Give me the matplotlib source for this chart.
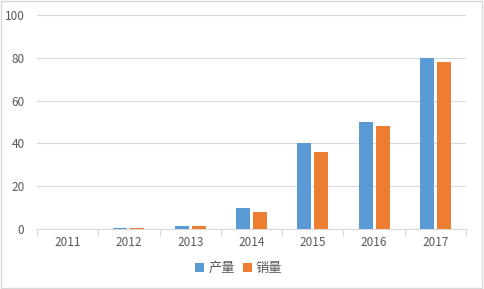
import matplotlib as mpl
mpl.use('Agg')
import matplotlib.pyplot as plt
import numpy as np

# data
years = ['2011', '2012', '2013', '2014', '2015', '2016', '2017']
output = [0, 0.5, 1.5, 10, 40, 50, 80]     # 产量
sales = [0, 0.5, 1.5, 8, 36, 48, 78]       # 销量

plt.rcParams['font.family'] = ['Noto Sans CJK SC', 'DejaVu Sans']

fig = plt.figure(figsize=(4.84, 2.89), dpi=100)
ax = fig.add_axes([0.0764, 0.2076, 0.8864, 0.7404])

x = np.arange(len(years))
w = 0.228
ax.bar(x - 0.139, output, w, color='#5B9BD5', label='产量', zorder=3)
ax.bar(x + 0.139, sales, w, color='#ED7D31', label='销量', zorder=3)

ax.set_xlim(-0.5, len(years) - 0.5)
ax.set_ylim(0, 100)
ax.set_yticks(range(0, 101, 20))
ax.yaxis.grid(color='#D9D9D9', linewidth=0.8, zorder=0)
ax.set_xticks(x)
ax.set_xticklabels(years)
ax.set_xticks(np.arange(-0.5, len(years)), minor=True)
ax.tick_params(axis='x', which='major', length=0, pad=5, labelsize=8.5, labelcolor='#595959')
ax.tick_params(axis='x', which='minor', length=5, color='#D9D9D9', width=0.8)
ax.tick_params(axis='y', length=0, pad=9, labelsize=8.5, labelcolor='#595959')
for s in ['top', 'right', 'left']:
    ax.spines[s].set_visible(False)
ax.spines['bottom'].set_color('#D9D9D9')

ax.legend(loc='center', bbox_to_anchor=(0.47, -0.185), ncol=2, frameon=False,
          fontsize=9.5, handlelength=0.7, handleheight=0.7, handletextpad=0.3,
          columnspacing=0.6, labelcolor='#595959')

# light border round the chart area
fig.patches.append(plt.Rectangle((0.002, 0.003), 0.994, 0.994, transform=fig.transFigure,
                                 fill=False, edgecolor='#D9D9D9', linewidth=1))

plt.savefig('out.png', dpi=100)
